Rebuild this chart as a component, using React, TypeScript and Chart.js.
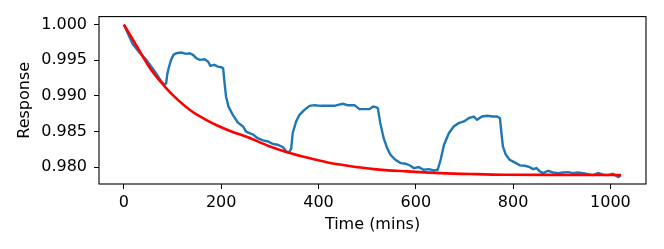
import React, { useEffect, useRef } from "react";
import { Chart, registerables } from "chart.js";

Chart.register(...registerables);

const blueX = [0, 18, 32, 46, 56, 66, 77, 84, 87, 89, 92, 97, 102, 108, 118, 128, 135, 142, 149, 156, 166, 173, 178, 186, 193, 200, 204, 207, 210, 215, 224, 234, 245, 251, 258, 265, 275, 286, 296, 306, 316, 327, 334, 340, 344, 347, 354, 361, 371, 382, 392, 405, 419, 433, 440, 450, 460, 474, 484, 495, 505, 512, 518, 522, 527, 534, 541, 548, 558, 569, 579, 589, 596, 606, 616, 627, 637, 645, 651, 658, 668, 678, 688, 699, 709, 719, 726, 736, 747, 757, 767, 773, 776, 779, 785, 793, 803, 814, 824, 834, 841, 848, 855, 862, 872, 882, 892, 903, 913, 923, 933, 944, 954, 964, 975, 985, 995, 1005, 1016, 1021];
const blueY = [1.0, 0.99729, 0.99608, 0.99505, 0.99411, 0.99318, 0.99201, 0.99155, 0.99178, 0.99295, 0.99388, 0.99505, 0.99575, 0.99598, 0.99608, 0.99589, 0.99598, 0.99575, 0.99528, 0.99505, 0.99514, 0.99481, 0.99421, 0.99435, 0.99411, 0.99402, 0.99388, 0.99177, 0.98991, 0.98851, 0.98734, 0.98626, 0.9857, 0.985, 0.98476, 0.9846, 0.98406, 0.98374, 0.9836, 0.98327, 0.98314, 0.9828, 0.9822, 0.98206, 0.98266, 0.98476, 0.9864, 0.98734, 0.98804, 0.9886, 0.98869, 0.9886, 0.9886, 0.9886, 0.98874, 0.98888, 0.98869, 0.98869, 0.98813, 0.98813, 0.98813, 0.9885, 0.98841, 0.98827, 0.98617, 0.98406, 0.98266, 0.98173, 0.98103, 0.98056, 0.98047, 0.98019, 0.97986, 0.98, 0.97963, 0.97972, 0.97953, 0.97963, 0.98103, 0.98314, 0.98476, 0.9857, 0.98617, 0.9864, 0.98687, 0.9871, 0.98664, 0.9871, 0.9872, 0.9871, 0.9871, 0.98687, 0.98476, 0.9829, 0.98173, 0.98103, 0.98066, 0.98024, 0.98019, 0.98, 0.97972, 0.97986, 0.9794, 0.97916, 0.97949, 0.97925, 0.97916, 0.97925, 0.9793, 0.97916, 0.97925, 0.97916, 0.97902, 0.97888, 0.97916, 0.97893, 0.97888, 0.97907, 0.9786, 0.9788];

const redX = [0, 29, 56, 84, 111, 138, 166, 193, 221, 255, 296, 337, 378, 419, 460, 514, 582, 651, 719, 781, 900, 1022];
const redY = [1.0, 0.99668, 0.99365, 0.99131, 0.98944, 0.9879, 0.98673, 0.9858, 0.985, 0.9842, 0.983, 0.98206, 0.98131, 0.98066, 0.9802, 0.97972, 0.9794, 0.97916, 0.97902, 0.97893, 0.9789, 0.97888];

const xTicks = [0, 200, 400, 600, 800, 1000];
const yTicks = [0.98, 0.985, 0.99, 0.995, 1.0];

const FONT = "'DejaVu Sans', sans-serif";

const boxPlugin = {
  id: "boxPlugin",
  afterDatasetsDraw(chart: any) {
    const { ctx, chartArea } = chart;
    ctx.save();
    ctx.strokeStyle = "#000";
    ctx.lineWidth = 1.1;
    ctx.strokeRect(chartArea.left, chartArea.top, chartArea.right - chartArea.left, chartArea.bottom - chartArea.top);
    ctx.restore();
  },
};

export default function App() {
  const ref = useRef<HTMLCanvasElement | null>(null);
  useEffect(() => {
    if (!ref.current) return;
    const chart = new Chart(ref.current, {
      type: "line",
      data: {
        datasets: [
          {
            data: redX.map((x, i) => ({ x, y: redY[i] })),
            borderColor: "#ff0000",
            borderWidth: 2.6,
            pointRadius: 0,
            cubicInterpolationMode: "monotone",
            order: 0,
          },
          {
            data: blueX.map((x, i) => ({ x, y: blueY[i] })),
            borderColor: "#1f77b4",
            borderWidth: 2.4,
            pointRadius: 0,
            tension: 0,
            order: 1,
          },
        ],
      },
      plugins: [boxPlugin],
      options: {
        animation: false,
        responsive: false,
        events: [],
        layout: { padding: { left: 0, top: 16, right: 18, bottom: 0 } },
        plugins: { legend: { display: false }, tooltip: { enabled: false } },
        scales: {
          x: {
            type: "linear",
            min: -51.1,
            max: 1073.1,
            afterBuildTicks: (axis: any) => {
              axis.ticks = xTicks.map((v) => ({ value: v }));
            },
            afterFit: (axis: any) => {
              axis.height = 65;
            },
            border: { display: false },
            grid: { drawOnChartArea: false, drawTicks: true, tickLength: 5, color: "#000", tickWidth: 1 },
            ticks: {
              padding: 4,
              color: "#000",
              font: { family: FONT, size: 16 },
              maxRotation: 0,
              callback: (v: any) => String(v),
            },
            title: {
              display: true,
              text: "Time (mins)",
              color: "#000",
              font: { family: FONT, size: 16 },
              padding: { top: 0, bottom: 15 },
            },
          },
          y: {
            type: "linear",
            min: 0.97763,
            max: 1.00112,
            afterBuildTicks: (axis: any) => {
              axis.ticks = yTicks.map((v) => ({ value: v }));
            },
            afterFit: (axis: any) => {
              axis.width = 99;
            },
            border: { display: false },
            grid: { drawOnChartArea: false, drawTicks: true, tickLength: 5, color: "#000", tickWidth: 1 },
            ticks: {
              padding: 7,
              color: "#000",
              font: { family: FONT, size: 16 },
              callback: (v: any) => Number(v).toFixed(3),
            },
            title: {
              display: true,
              text: "Response",
              color: "#000",
              font: { family: FONT, size: 16 },
              padding: { top: 15, bottom: 0 },
            },
          },
        },
      },
    } as any);
    return () => chart.destroy();
  }, []);
  return (
    <div style={{ position: "absolute", left: 0, top: 0, width: 664, height: 249, background: "#fff" }}>
      <canvas ref={ref} width={664} height={249} style={{ width: 664, height: 249 }} />
    </div>
  );
}
